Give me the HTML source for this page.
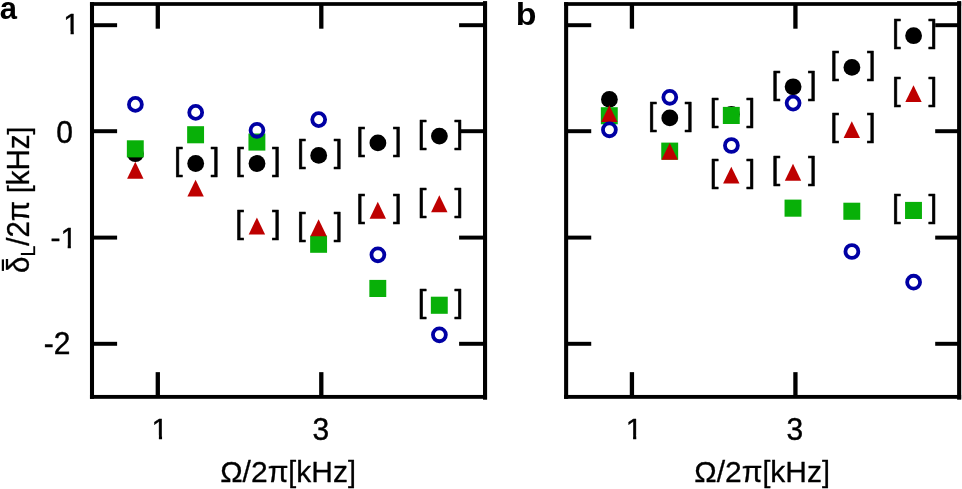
<!DOCTYPE html>
<html lang="en"><head><meta charset="utf-8"><title>Figure</title>
<style>
html,body{margin:0;padding:0;background:#fff;}
body{width:962px;height:489px;overflow:hidden;}
svg{display:block;font-family:"Liberation Sans",Arial,Helvetica,sans-serif;}
svg text{fill:#000;}
.ax rect{fill:#000;}
</style></head><body>
<svg width="962" height="489" viewBox="0 0 962 489">
<rect width="962" height="489" fill="#fff"/>
<defs>
<clipPath id="c1"><path d="M-4 -30H30V-3.3H10.45V2H7.3V-3.3H-4Z"/></clipPath>
<clipPath id="c2"><path d="M-4 -30H40V-3.3H20.45V2H17.3V-3.3H-4Z"/></clipPath>
</defs>
<g class="ax">
<rect x="89.97" y="2.15" width="4.06" height="396.65"/>
<rect x="483.00" y="1.10" width="4.10" height="398.60"/>
<rect x="89.97" y="2.15" width="397.05" height="3.70"/>
<rect x="89.97" y="394.95" width="397.05" height="3.85"/>
<rect x="92.00" y="23.22" width="25.10" height="3.96"/>
<rect x="459.10" y="23.22" width="25.95" height="3.96"/>
<rect x="92.00" y="129.22" width="25.10" height="3.96"/>
<rect x="459.10" y="129.22" width="25.95" height="3.96"/>
<rect x="92.00" y="235.62" width="25.10" height="3.96"/>
<rect x="459.10" y="235.62" width="25.95" height="3.96"/>
<rect x="92.00" y="341.82" width="25.10" height="3.96"/>
<rect x="459.10" y="341.82" width="25.95" height="3.96"/>
<rect x="155.65" y="4.00" width="4.30" height="24.70"/>
<rect x="155.65" y="372.15" width="4.30" height="24.00"/>
<rect x="319.15" y="4.00" width="4.30" height="24.70"/>
<rect x="319.15" y="372.15" width="4.30" height="24.00"/>
<rect x="564.10" y="2.15" width="4.06" height="396.65"/>
<rect x="957.10" y="1.10" width="4.10" height="398.60"/>
<rect x="564.10" y="2.15" width="397.02" height="3.70"/>
<rect x="564.10" y="394.95" width="397.02" height="3.85"/>
<rect x="566.13" y="23.22" width="25.10" height="3.96"/>
<rect x="935.20" y="23.22" width="23.95" height="3.96"/>
<rect x="566.13" y="129.22" width="25.10" height="3.96"/>
<rect x="935.20" y="129.22" width="23.95" height="3.96"/>
<rect x="566.13" y="235.62" width="25.10" height="3.96"/>
<rect x="935.20" y="235.62" width="23.95" height="3.96"/>
<rect x="566.13" y="341.82" width="25.10" height="3.96"/>
<rect x="935.20" y="341.82" width="23.95" height="3.96"/>
<rect x="629.78" y="4.00" width="4.30" height="24.70"/>
<rect x="629.78" y="372.15" width="4.30" height="24.00"/>
<rect x="793.28" y="4.00" width="4.30" height="24.70"/>
<rect x="793.28" y="372.15" width="4.30" height="24.00"/>
</g>
<circle cx="135.4" cy="153.7" r="8.4" fill="#000000"/>
<circle cx="195.7" cy="163.5" r="8.4" fill="#000000"/>
<circle cx="257.0" cy="163.5" r="8.4" fill="#000000"/>
<circle cx="318.7" cy="155.4" r="8.4" fill="#000000"/>
<circle cx="377.9" cy="142.9" r="8.4" fill="#000000"/>
<circle cx="439.4" cy="136.1" r="8.4" fill="#000000"/>
<rect x="126.85" y="140.30" width="16.9" height="17.1" fill="#08b008"/>
<rect x="187.15" y="126.20" width="16.9" height="17.1" fill="#08b008"/>
<rect x="248.45" y="133.50" width="16.9" height="17.1" fill="#08b008"/>
<rect x="310.15" y="235.70" width="16.9" height="17.1" fill="#08b008"/>
<rect x="369.35" y="279.90" width="16.9" height="17.1" fill="#08b008"/>
<rect x="430.85" y="296.70" width="16.9" height="17.1" fill="#08b008"/>
<path d="M135.3 161.8L143.5 178.7H127.1Z" fill="#be0000"/>
<path d="M195.6 179.7L203.8 196.6H187.4Z" fill="#be0000"/>
<path d="M256.9 217.5L265.1 234.4H248.7Z" fill="#be0000"/>
<path d="M318.6 219.3L326.8 236.2H310.4Z" fill="#be0000"/>
<path d="M377.8 201.8L386.0 218.7H369.6Z" fill="#be0000"/>
<path d="M439.3 195.3L447.5 212.2H431.1Z" fill="#be0000"/>
<circle cx="135.4" cy="104.4" r="6.45" fill="none" stroke="#0000a4" stroke-width="3.8"/>
<circle cx="195.7" cy="112.4" r="6.45" fill="none" stroke="#0000a4" stroke-width="3.8"/>
<circle cx="257.0" cy="130.3" r="6.45" fill="none" stroke="#0000a4" stroke-width="3.8"/>
<circle cx="318.7" cy="119.6" r="6.45" fill="none" stroke="#0000a4" stroke-width="3.8"/>
<circle cx="377.9" cy="254.8" r="6.45" fill="none" stroke="#0000a4" stroke-width="3.8"/>
<circle cx="439.4" cy="334.8" r="6.45" fill="none" stroke="#0000a4" stroke-width="3.8"/>
<g font-size="31.3" stroke="#000" stroke-width="0.55" stroke-linejoin="round">
<text x="174.0" y="170.2">[</text><text x="210.7" y="170.2">]</text>
<text x="235.3" y="170.2">[</text><text x="272.0" y="170.2">]</text>
<text x="297.0" y="162.1">[</text><text x="333.7" y="162.1">]</text>
<text x="356.2" y="149.6">[</text><text x="392.9" y="149.6">]</text>
<text x="417.7" y="142.8">[</text><text x="454.4" y="142.8">]</text>
<text x="235.3" y="232.7">[</text><text x="272.0" y="232.7">]</text>
<text x="297.0" y="234.5">[</text><text x="333.7" y="234.5">]</text>
<text x="356.2" y="217.0">[</text><text x="392.9" y="217.0">]</text>
<text x="417.7" y="210.5">[</text><text x="454.4" y="210.5">]</text>
<text x="417.7" y="312.0">[</text><text x="454.4" y="312.0">]</text>
</g>
<circle cx="609.4" cy="99.4" r="8.4" fill="#000000"/>
<circle cx="669.8" cy="117.9" r="8.4" fill="#000000"/>
<circle cx="731.4" cy="114.3" r="8.4" fill="#000000"/>
<circle cx="793.1" cy="86.8" r="8.4" fill="#000000"/>
<circle cx="851.9" cy="67.4" r="8.4" fill="#000000"/>
<circle cx="913.6" cy="35.7" r="8.4" fill="#000000"/>
<rect x="600.85" y="107.20" width="16.9" height="17.1" fill="#08b008"/>
<rect x="661.25" y="142.60" width="16.9" height="17.1" fill="#08b008"/>
<rect x="722.85" y="106.90" width="16.9" height="17.1" fill="#08b008"/>
<rect x="784.55" y="199.60" width="16.9" height="17.1" fill="#08b008"/>
<rect x="843.35" y="202.70" width="16.9" height="17.1" fill="#08b008"/>
<rect x="905.05" y="201.90" width="16.9" height="17.1" fill="#08b008"/>
<path d="M609.3 105.2L617.5 122.1H601.1Z" fill="#be0000"/>
<path d="M669.7 142.9L677.9 159.8H661.5Z" fill="#be0000"/>
<path d="M731.3 166.7L739.5 183.6H723.1Z" fill="#be0000"/>
<path d="M793.0 163.8L801.2 180.7H784.8Z" fill="#be0000"/>
<path d="M851.8 121.2L860.0 138.1H843.6Z" fill="#be0000"/>
<path d="M913.5 85.2L921.7 102.1H905.3Z" fill="#be0000"/>
<circle cx="609.4" cy="129.8" r="6.45" fill="none" stroke="#0000a4" stroke-width="3.8"/>
<circle cx="669.8" cy="97.3" r="6.45" fill="none" stroke="#0000a4" stroke-width="3.8"/>
<circle cx="731.4" cy="145.5" r="6.45" fill="none" stroke="#0000a4" stroke-width="3.8"/>
<circle cx="793.1" cy="103.1" r="6.45" fill="none" stroke="#0000a4" stroke-width="3.8"/>
<circle cx="851.9" cy="251.5" r="6.45" fill="none" stroke="#0000a4" stroke-width="3.8"/>
<circle cx="913.6" cy="282.2" r="6.45" fill="none" stroke="#0000a4" stroke-width="3.8"/>
<g font-size="31.3" stroke="#000" stroke-width="0.55" stroke-linejoin="round">
<text x="648.1" y="124.6">[</text><text x="684.8" y="124.6">]</text>
<text x="709.7" y="121.0">[</text><text x="746.4" y="121.0">]</text>
<text x="771.4" y="93.5">[</text><text x="808.1" y="93.5">]</text>
<text x="830.2" y="74.1">[</text><text x="866.9" y="74.1">]</text>
<text x="891.9" y="42.4">[</text><text x="928.6" y="42.4">]</text>
<text x="709.7" y="181.9">[</text><text x="746.4" y="181.9">]</text>
<text x="771.4" y="179.0">[</text><text x="808.1" y="179.0">]</text>
<text x="830.2" y="136.4">[</text><text x="866.9" y="136.4">]</text>
<text x="891.9" y="100.4">[</text><text x="928.6" y="100.4">]</text>
<text x="891.9" y="217.2">[</text><text x="928.6" y="217.2">]</text>
</g>
<g font-size="32" font-weight="bold">
<text x="-0.3" y="18.6" font-size="31">a</text>
<text transform="translate(515.8 25) scale(1.06 1)">b</text>
</g>
<g font-size="30" stroke="#000" stroke-width="0.4" stroke-linejoin="round">
<text transform="translate(63.3 34.3) scale(1 1.0)" clip-path="url(#c1)">1</text>
<text transform="translate(56.3 142.9) scale(1 1.07)">0</text>
<text transform="translate(50.4 247.9) scale(1 0.985)" clip-path="url(#c2)">-1</text>
<text transform="translate(43.8 354.2) scale(1 1.07)">-2</text>
<text transform="translate(151.6 438.7)" clip-path="url(#c1)">1</text>
<text transform="translate(312.5 439.6) scale(1 1.07)">3</text>
<text transform="translate(625.8 438.7)" clip-path="url(#c1)">1</text>
<text transform="translate(786.6 439.6) scale(1 1.07)">3</text>
</g>
<g font-size="30" stroke="#000" stroke-width="0.3" stroke-linejoin="round">
<text transform="translate(220.2 481.9) scale(1 1.01)">Ω/2π<tspan font-size="28.6">[</tspan>kHz<tspan font-size="28.6">]</tspan></text>
<text transform="translate(694.3 481.9) scale(1 1.01)">Ω/2π<tspan font-size="28.6">[</tspan>kHz<tspan font-size="28.6">]</tspan></text>
</g>
<g transform="translate(28.6 273) rotate(-90) scale(1 1.04)" font-size="29.5" stroke="#000" stroke-width="0.3" stroke-linejoin="round"><text transform="translate(2.3 9.4) scale(0.441 1)" font-size="46" stroke="none">¯</text><text x="0" y="0">δ<tspan font-size="19.5" dy="6.3">L</tspan><tspan dy="-6.3">/2π</tspan><tspan dx="-0.4"> </tspan><tspan font-size="28">[</tspan>kHz<tspan font-size="28">]</tspan></text></g>
</svg></body></html>
